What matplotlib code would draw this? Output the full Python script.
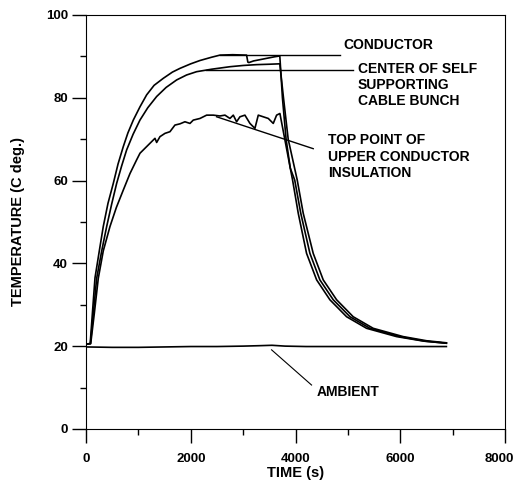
import matplotlib.pyplot as plt
import matplotlib.transforms as mtransforms
import numpy as np

# time (s) / temperature (C)
t_cond = [0, 80, 172, 267, 330, 420, 521, 612, 712, 800, 903, 1030, 1158, 1300, 1476,
          1650, 1794, 2000, 2176, 2400, 2557, 2800, 3066, 3090, 3110, 3200, 3400, 3600, 3700,
          3750, 3820, 3900, 3985, 4100, 4275, 4465, 4720, 5040, 5420, 5990, 6470, 6880]
T_cond = [20.5, 20.6, 36.5, 44.0, 48.9, 54.5, 59.3, 64.0, 68.2, 71.5, 74.6, 77.8, 80.7, 83.0, 84.7,
          86.2, 87.1, 88.2, 89.0, 89.8, 90.3, 90.4, 90.3, 88.6, 88.5, 88.9, 89.4, 89.9, 90.1,
          80.0, 70.0, 63.0, 60.1, 52.1, 42.4, 36.0, 31.2, 27.1, 24.3, 22.3, 21.2, 20.7]

t_cent = [0, 85, 204, 300, 395, 490, 585, 680, 776, 900, 1030, 1180, 1349, 1530, 1730,
          1920, 2112, 2400, 2748, 3000, 3257, 3500, 3700,
          3770, 3860, 4033, 4147, 4338, 4529, 4784, 5101, 5483, 6055, 6500, 6880]
T_cent = [20.5, 20.6, 36.4, 43.0, 48.9, 54.3, 59.3, 63.5, 67.4, 71.2, 74.6, 77.6, 80.3, 82.5, 84.3,
          85.5, 86.3, 86.9, 87.5, 87.8, 88.0, 88.1, 88.2,
          80.0, 70.0, 60.1, 52.1, 42.4, 36.0, 31.2, 27.1, 24.3, 22.3, 21.3, 20.8]

t_insul = [0, 90, 160, 235, 330, 458, 580, 712, 840, 967, 1031, 1158, 1317, 1349, 1412,
           1508, 1603, 1698, 1794, 1889, 1985, 2048, 2176, 2303, 2430, 2557, 2653, 2748,
           2812, 2875, 2939, 3034, 3130, 3225, 3289, 3384, 3480, 3575, 3639, 3702,
           3798, 3870, 3944, 4052, 4211, 4403, 4656, 4975, 5357, 5929, 6450, 6880]
T_insul = [20.5, 20.6, 28.0, 36.4, 43.0, 48.9, 53.5, 57.7, 61.7, 65.0, 66.6, 68.2, 70.2, 69.2, 70.6,
           71.4, 71.8, 73.4, 73.7, 74.2, 73.8, 74.6, 75.0, 75.8, 75.8, 75.6, 75.8, 75.0,
           75.8, 74.2, 75.4, 75.8, 73.8, 72.6, 75.8, 75.4, 75.0, 73.8, 75.8, 76.2,
           69.8, 65.0, 60.1, 52.1, 42.4, 36.0, 31.2, 27.1, 24.3, 22.3, 21.2, 20.7]

t_amb = [0, 500, 1000, 1500, 2000, 2500, 3000, 3300, 3550, 3800, 4200, 5000, 6000, 6880]
T_amb = [19.8, 19.7, 19.7, 19.8, 19.9, 19.9, 20.0, 20.1, 20.2, 20.0, 19.9, 19.9, 19.9, 19.9]

fig = plt.figure(figsize=(5.18, 4.83), dpi=100)
ax = fig.add_axes([0.166, 0.112, 0.809, 0.857])

for t, T in [(t_cond, T_cond), (t_cent, T_cent), (t_insul, T_insul), (t_amb, T_amb)]:
    ax.plot(t, T, color="black", linewidth=1.2)

ax.set_xlim(0, 8000)
ax.set_ylim(0, 100)
ax.set_xticks(np.arange(0, 8001, 2000))
ax.set_xticks(np.arange(0, 8001, 1000), minor=True)
ax.set_yticks(np.arange(0, 101, 20))
ax.set_yticks(np.arange(0, 101, 10), minor=True)
ax.tick_params(which="major", direction="out", length=10, width=1, labelsize=9.5)
ax.tick_params(which="minor", direction="out", length=4.5, width=1)
ax.tick_params(axis="x", which="major", pad=7)
ax.tick_params(axis="y", which="major", pad=3)
for lab in ax.get_xticklabels() + ax.get_yticklabels():
    lab.set_fontweight("bold")
    lab.set_family("Liberation Sans")

# last x label sits right at the figure edge, nudge it in a little
last = ax.get_xticklabels()[-1]
last.set_transform(last.get_transform()
                   + mtransforms.ScaledTranslation(-4 / 72, 0, fig.dpi_scale_trans))

lbl = dict(fontsize=10.5, fontweight="bold", family="Liberation Sans")
ax.set_xlabel("TIME (s)", labelpad=1, **lbl)
ax.set_ylabel("TEMPERATURE (C deg.)", labelpad=15, **lbl)

txt = dict(fontsize=10, fontweight="bold", family="Liberation Sans", va="center", ha="left",
           linespacing=1.2)
ax.plot([2550, 4850], [90.3, 90.3], color="black", linewidth=1)
ax.text(4905, 92.8, "CONDUCTOR", **txt)
ax.plot([2300, 5100], [86.7, 86.7], color="black", linewidth=1)
ax.text(5190, 83.1, "CENTER OF SELF\nSUPPORTING\nCABLE BUNCH", **txt)
ax.plot([2494, 4338], [75.4, 67.7], color="black", linewidth=1)
ax.text(4620, 65.8, "TOP POINT OF\nUPPER CONDUCTOR\nINSULATION", **txt)
ax.plot([3543, 4306], [19.1, 10.6], color="black", linewidth=0.8)
ax.text(4402, 8.9, "AMBIENT", **txt)

plt.savefig("out.png", dpi=100)
plt.close()
